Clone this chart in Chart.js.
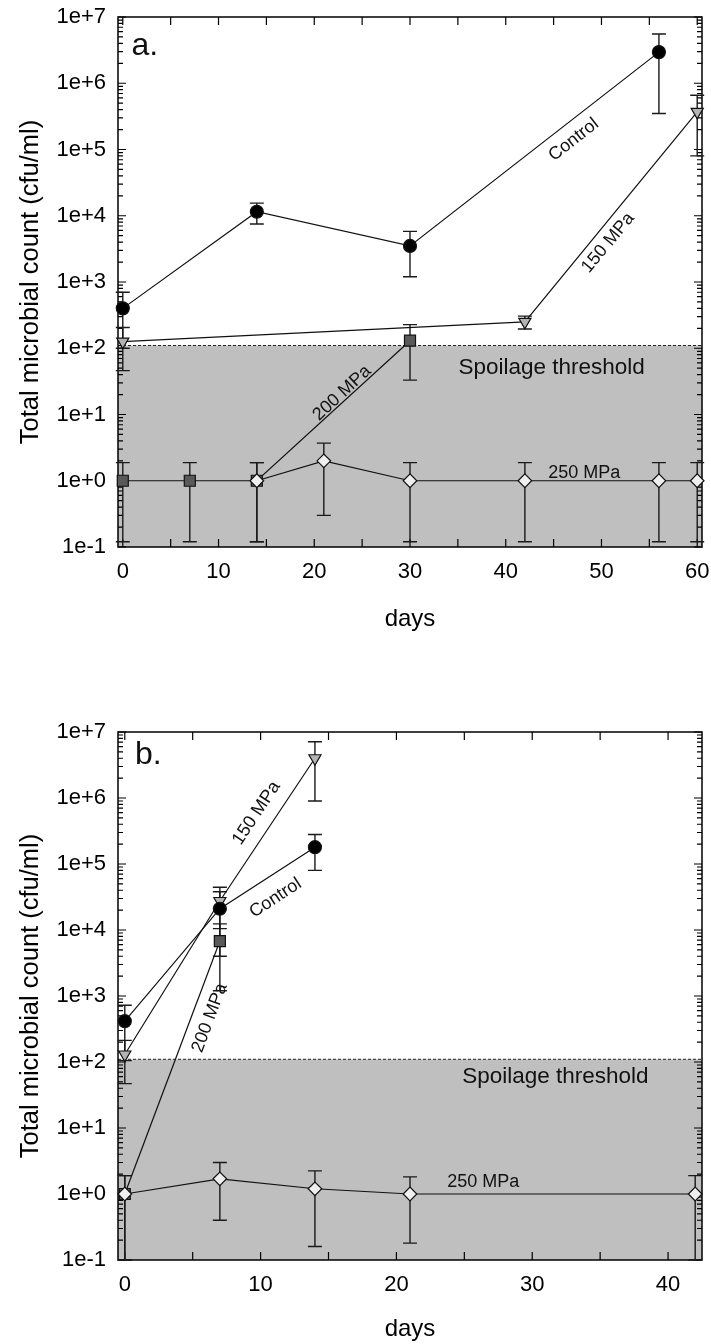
<!DOCTYPE html>
<html>
<head>
<meta charset="utf-8">
<script src="https://cdn.jsdelivr.net/npm/chart.js@4.4.1/dist/chart.umd.min.js"></script>
<style>
body{margin:0;background:#fff;}
#wrap{position:relative;width:711px;height:1344px;}
canvas{position:absolute;left:0;}
</style>
</head>
<body>
<div id="wrap">
<canvas id="chartA" width="711" height="660" style="top:0"></canvas>
<canvas id="chartB" width="711" height="644" style="top:700px"></canvas>
</div>
<script>
// ---- panel a ----
const ctrlDaysA = [0, 14, 30, 56];
const ctrlA     = [400, 11500, 3500, 2950000];
const ctrlErrA  = [300, 4000, 2300, 2600000];
const p150DaysA = [0, 42, 60];
const p150A     = [126, 250, 370000];
const p150ErrA  = [80, 55, 290000];
const p200DaysA = [0, 7, 14, 30];
const p200A     = [1, 1, 1, 130];
const p200ErrA  = [0.88, 0.88, 0.88, 97];
const p250DaysA = [14, 21, 30, 42, 56, 60];
const p250A     = [1, 2, 1, 1, 1, 1];
const p250ErrA  = [0.88, 1.7, 0.88, 0.88, 0.88, 0.88];

// ---- panel b ----
const ctrlDaysB = [0, 7, 14];
const ctrlB     = [415, 21000, 180000];
const ctrlErrB  = [310, 17000, 100000];
const p150DaysB = [0, 7, 14];
const p150B     = [130, 27500, 4000000];
const p150ErrB  = [83, 17000, 3100000];
const p200DaysB = [0, 7];
const p200B     = [1, 6800];
const p200ErrB  = [0.9, 5600];
const p250DaysB = [0, 7, 14, 21, 42];
const p250B     = [1, 1.7, 1.2, 1, 1];
const p250ErrB  = [0.9, 1.3, 1.04, 0.82, 0.9];

const threshold = 110;
const yExps = [-1, 0, 1, 2, 3, 4, 5, 6, 7];
const xTicksA = [0, 10, 20, 30, 40, 50, 60];
const xTicksB = [0, 10, 20, 30, 40];

const FONT = "'Liberation Sans', Arial, Helvetica, sans-serif";
Chart.defaults.font.family = FONT;
Chart.defaults.color = '#000';

const pts = (days, vals) => days.map((d, i) => ({x: d, y: vals[i]}));

// grey spoilage band + dashed limit line
const shade = {
  id: 'shade',
  beforeDatasetsDraw(chart, args, opts) {
    const {ctx, chartArea: a, scales: {y}} = chart;
    const ty = y.getPixelForValue(opts.value);
    ctx.save();
    ctx.fillStyle = '#bfbfbf';
    ctx.fillRect(a.left, ty, a.right - a.left, a.bottom - ty);
    ctx.strokeStyle = '#222';
    ctx.lineWidth = 1;
    ctx.setLineDash([3, 2]);
    ctx.beginPath();
    ctx.moveTo(a.left, ty); ctx.lineTo(a.right, ty);
    ctx.stroke();
    ctx.restore();
  }
};

// box frame with inward ticks on all sides
const frame = {
  id: 'frame',
  beforeDatasetsDraw(chart) {
    const {ctx, chartArea: a, scales: {x, y}} = chart;
    ctx.save();
    ctx.strokeStyle = '#000';
    ctx.lineWidth = 1.5;
    ctx.strokeRect(a.left, a.top, a.right - a.left, a.bottom - a.top);
    ctx.lineWidth = 1.2;
    ctx.beginPath();
    x.ticks.forEach(t => {
      const px = x.getPixelForValue(t.value);
      ctx.moveTo(px, a.bottom); ctx.lineTo(px, a.bottom - 8);
      ctx.moveTo(px, a.top); ctx.lineTo(px, a.top + 8);
    });
    y.ticks.forEach(t => {
      const py = y.getPixelForValue(t.value);
      const lg = Math.log10(t.value);
      const len = Math.abs(lg - Math.round(lg)) < 1e-6 ? 8 : 5;
      ctx.moveTo(a.left, py); ctx.lineTo(a.left + len, py);
      ctx.moveTo(a.right, py); ctx.lineTo(a.right - len, py);
    });
    ctx.stroke();
    ctx.restore();
  }
};

// symmetric error bars from each dataset's errors array
const errorBars = {
  id: 'errorBars',
  beforeDatasetsDraw(chart) {
    const {ctx, scales: {x, y}} = chart;
    ctx.save();
    ctx.strokeStyle = '#1a1a1a';
    ctx.lineWidth = 1.4;
    chart.data.datasets.forEach(ds => {
      ds.data.forEach((p, i) => {
        const e = ds.errors[i];
        const px = x.getPixelForValue(p.x);
        const top = y.getPixelForValue(p.y + e);
        const bot = y.getPixelForValue(Math.max(p.y - e, y.min));
        ctx.beginPath();
        ctx.moveTo(px, top); ctx.lineTo(px, bot);
        ctx.moveTo(px - 7, top); ctx.lineTo(px + 7, top);
        ctx.moveTo(px - 7, bot); ctx.lineTo(px + 7, bot);
        ctx.stroke();
      });
    });
    ctx.restore();
  }
};

// text labels placed in data coordinates
const notes = {
  id: 'notes',
  afterDatasetsDraw(chart, args, opts) {
    const {ctx, scales: {x, y}} = chart;
    opts.items.forEach(n => {
      ctx.save();
      ctx.translate(x.getPixelForValue(n.x), y.getPixelForValue(n.y));
      ctx.rotate((n.angle || 0) * Math.PI / 180);
      ctx.font = n.size + 'px ' + FONT;
      ctx.fillStyle = '#111';
      ctx.textAlign = n.align || 'center';
      ctx.textBaseline = 'middle';
      ctx.fillText(n.text, 0, 0);
      ctx.restore();
    });
  }
};

function sets(c, p150, p200, p250) {
  const base = {showLine: true, borderColor: '#111', borderWidth: 1.2,
                pointBorderColor: '#111', pointBorderWidth: 1.2, clip: false};
  return [
    Object.assign({label: '250 MPa', data: p250[0], errors: p250[1], pointStyle: 'rectRot',
      pointRadius: 6.8, pointBackgroundColor: '#efefef'}, base),
    Object.assign({label: 'Control', data: c[0], errors: c[1], pointStyle: 'circle',
      pointRadius: 6.5, pointBackgroundColor: '#000'}, base),
    Object.assign({label: '200 MPa', data: p200[0], errors: p200[1], pointStyle: 'rect',
      pointRadius: 7.8, pointBackgroundColor: '#595959'}, base),
    Object.assign({label: '150 MPa', data: p150[0], errors: p150[1], pointStyle: 'triangle',
      rotation: 180, pointRadius: 7, pointBackgroundColor: '#b3b3b3'}, base)
  ];
}

function makeChart(id, o) {
  return new Chart(document.getElementById(id), {
    type: 'scatter',
    data: {datasets: o.datasets},
    plugins: [shade, frame, errorBars, notes],
    options: {
      responsive: false,
      animation: false,
      devicePixelRatio: 1,
      layout: {padding: {left: 0, right: 9, top: o.padTop, bottom: 0}},
      plugins: {
        legend: {display: false},
        tooltip: {enabled: false},
        shade: {value: threshold},
        notes: {items: o.notes}
      },
      scales: {
        x: {
          type: 'linear', min: -0.5, max: o.xMax,
          grid: {display: false, drawTicks: false},
          border: {display: false},
          afterBuildTicks: s => {
            const t = [];
            for (let v = 0; v <= o.xMax; v += 5) t.push({value: v});
            s.ticks = t;
          },
          afterFit: s => { s.height = o.xBox; s.paddingLeft = 0; s.paddingRight = 0; },
          ticks: {
            autoSkip: false, maxRotation: 0, padding: 12,
            font: {size: 22},
            callback: v => o.xTicks.includes(v) ? String(v) : ''
          },
          title: {display: true, text: 'days', font: {size: 24}, padding: {top: 0, bottom: o.titlePad}}
        },
        y: {
          type: 'logarithmic', min: 0.1, max: 1e7,
          grid: {display: false, drawTicks: false},
          border: {display: false},
          afterBuildTicks: s => {
            const t = [];
            yExps.forEach(e => {
              for (let k = 1; k <= 9; k++) {
                if (e === 7 && k > 1) break;
                t.push({value: +(k * Math.pow(10, e)).toPrecision(6)});
              }
            });
            s.ticks = t;
          },
          afterFit: s => { s.width = 118; s.paddingTop = 0; s.paddingBottom = 0; },
          ticks: {
            autoSkip: false, padding: 12,
            font: {size: 22},
            callback: v => {
              const e = Math.log10(v);
              if (Math.abs(e - Math.round(e)) > 1e-6) return '';
              const r = Math.round(e);
              return '1e' + (r >= 0 ? '+' : '') + r;
            }
          },
          title: {display: true, text: 'Total microbial count (cfu/ml)', font: {size: 25.5}, padding: {top: 16, bottom: 0}}
        }
      }
    }
  });
}

makeChart('chartA', {
  xMax: 60.5, xTicks: xTicksA, padTop: 17, xBox: 113, titlePad: 26,
  datasets: sets(
    [pts(ctrlDaysA, ctrlA), ctrlErrA],
    [pts(p150DaysA, p150A), p150ErrA],
    [pts(p200DaysA, p200A), p200ErrA],
    [pts(p250DaysA, p250A), p250ErrA]),
  notes: [
    {text: 'a.', x: 0.9, y: 3.6e6, size: 32, align: 'left'},
    {text: 'Control', x: 47.1, y: 1.4e5, angle: -38, size: 18},
    {text: '150 MPa', x: 50.7, y: 3.9e3, angle: -50.5, size: 18},
    {text: '200 MPa', x: 22.9, y: 21, angle: -43, size: 18},
    {text: '250 MPa', x: 48.2, y: 1.32, size: 18},
    {text: 'Spoilage threshold', x: 44.8, y: 51, size: 22.5}
  ]
});

makeChart('chartB', {
  xMax: 42.5, xTicks: xTicksB, padTop: 32, xBox: 84, titlePad: 0,
  datasets: sets(
    [pts(ctrlDaysB, ctrlB), ctrlErrB],
    [pts(p150DaysB, p150B), p150ErrB],
    [pts(p200DaysB, p200B), p200ErrB],
    [pts(p250DaysB, p250B), p250ErrB]),
  notes: [
    {text: 'b.', x: 0.75, y: 4.4e6, size: 32, align: 'left'},
    {text: '150 MPa', x: 9.7, y: 5.9e5, angle: -56.4, size: 18},
    {text: 'Control', x: 11.1, y: 3.05e4, angle: -33, size: 18},
    {text: '200 MPa', x: 6.25, y: 465, angle: -69.4, size: 18},
    {text: '250 MPa', x: 26.4, y: 1.51, size: 18},
    {text: 'Spoilage threshold', x: 31.7, y: 59, size: 22.5}
  ]
});
</script>
</body>
</html>
